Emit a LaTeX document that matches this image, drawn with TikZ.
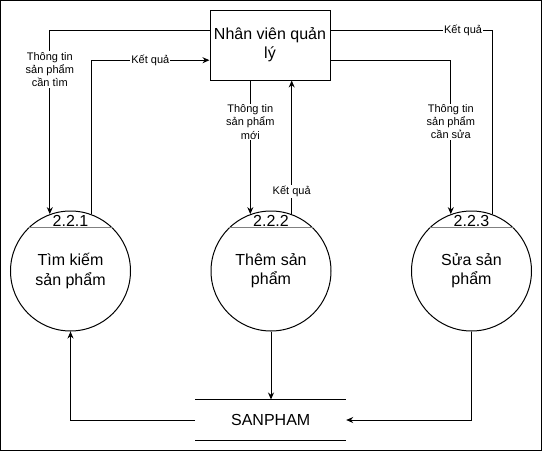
\documentclass[tikz,border=0pt]{standalone}
\usepackage{fontspec}
\setmainfont{Liberation Sans}
\usetikzlibrary{arrows.meta,calc}
\definecolor{sepgray}{RGB}{128,128,128}
\begin{document}
\begin{tikzpicture}[x=1pt,y=-1pt,
  line width=1pt,
  arr/.style={-{Stealth[length=7pt,width=6pt]}},
  bigtxt/.style={font=\fontsize{16}{19.2}\selectfont, align=center},
  lbl/.style={font=\fontsize{11}{13.2}\selectfont, align=center, fill=white, inner sep=1pt},
  proc/.style={circle, draw, minimum size=120pt, inner sep=0pt, bigtxt},
  ent/.style={rectangle, draw, minimum width=120pt, minimum height=70pt, inner sep=0pt, bigtxt},
  sep/.style={draw=sepgray, line width=1.2pt}
]
\useasboundingbox (0,0) rectangle (542,451);
\draw (0.5,0.5) rectangle (541.5,450.5);

\node[ent] (box) at (270,45) {Nhân viên quản\\lý};
\node[proc] (c1) at (70.5,271) {Tìm kiếm\\sản phẩm};
\node[proc] (c2) at (271,271) {Thêm sản\\phẩm};
\node[proc] (c3) at (471.5,271) {Sửa sản\\phẩm};
\node[minimum width=150pt, minimum height=40pt, inner sep=0pt, bigtxt] (store) at (270.7,420) {SANPHAM};
\draw (store.north west) -- (store.north east);
\draw (store.south west) -- (store.south east);

% separators and numbers in circles
\foreach \c/\n in {c1/2.2.1, c2/2.2.2, c3/2.2.3}{
  \draw[sep] (\c.134) -- (\c.46);
  \node[bigtxt, inner sep=0pt] (\c num) at ($(\c.center)+(0,-50.5)$) {\n};
}

% connectors
\draw[arr] ([yshift=-20.7pt]box.north west) -| (c1.110)
  node[lbl, pos=0.607] (l1) {Thông tin\\sản phẩm\\cần tìm};
\draw[arr] (c1.70) |- ([yshift=-50.7pt]box.north west)
  node[lbl, pos=0.75] (l2) {Kết quả};

\draw[arr] (box.south -| c2.110) -- (c2.110)
  node[lbl, pos=0.31] (l3) {Thông tin\\sản phẩm\\mới};
\draw[arr] (c2.70) -- (c2.70 |- box.south)
  node[lbl, pos=0.17] (l4) {Kết quả};

\draw[arr] ([yshift=-50.7pt]box.north east) -| (c3.110)
  node[lbl, pos=0.7] (l5) {Thông tin\\sản phẩm\\cần sửa};
\draw (c3.70) |- ([yshift=-20.7pt]box.north east)
  node[lbl, pos=0.59] (l6) {Kết quả};

\draw[arr] (c2.south) -- (store.north -| c2.south);
\draw[arr] (store.west) -| (c1.south);
\draw[arr] (c3.south) |- (store.east);
\end{tikzpicture}
\end{document}
